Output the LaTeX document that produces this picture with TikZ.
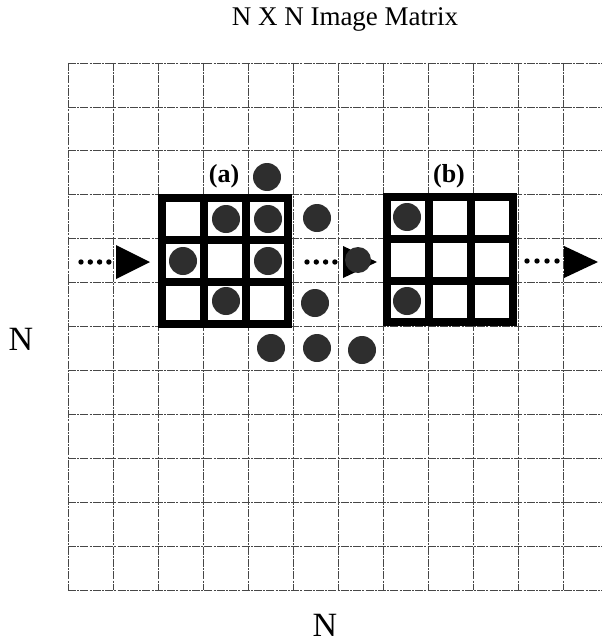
\documentclass[tikz,border=0pt]{standalone}
\usepackage{fontspec}
\setmainfont{Liberation Serif}
\begin{document}
\begin{tikzpicture}[x=1pt,y=-1pt,
  gridline/.style={black!72, line width=0.8pt, dash pattern=on 8pt off 1.2pt on 2pt off 1.2pt},
  frame/.style={black, line width=8pt, line join=miter},
  pixel/.style={fill=black!82, draw=none},
  head/.style={fill=black, draw=none},
  trail/.style={fill=black, draw=none},
  caption/.style={inner sep=0pt, anchor=base},
  tag/.style={inner sep=0pt, anchor=base, font=\fontsize{26}{30}\selectfont\bfseries}]
\useasboundingbox (0,0) rectangle (602,642);

% background N x N grid
\foreach \i in {0,...,11}
  \draw[gridline] ({68+45*\i},63) -- ({68+45*\i},590);
\foreach \j in {0,...,12}
  \draw[gridline] (68,{63+43.917*\j}) -- (602,{63+43.917*\j});

% window (a)
\fill[white] (162,198) rectangle (288,324);
\draw[frame] (162,198) rectangle (288,324);
\draw[frame] (204,198) -- (204,324) (246,198) -- (246,324)
             (162,240) -- (288,240) (162,282) -- (288,282);

% window (b)
\fill[white] (387,197) rectangle (513,322);
\draw[frame] (387,197) rectangle (513,322);
\draw[frame] (429,197) -- (429,322) (471,197) -- (471,322)
             (387,239) -- (513,239) (387,281) -- (513,281);

% object pixels
\foreach \p in {(267,177),(226,219),(268,219),(317,218),(183,261),(268,261),
                (226,301),(315,303),(271,348),(317,348),(362,350),
                (407,217),(407,301)}
  \fill[pixel] \p circle (14pt);

% scan direction arrows
\coordinate (inL) at (116,262);
\coordinate (inM) at (343,262);
\coordinate (inR) at (564,262);
\foreach \k in {0,...,3} {
  \fill[trail] ({81+9.3*\k},262) circle (2.7pt);
  \fill[trail] ({307+9.3*\k},262) circle (2.7pt);
  \fill[trail] ({527+10*\k},261) circle (2.7pt);
}
\fill[head] (inL) ++(0,-17) -- ++(34,17) -- ++(-34,17) -- cycle;
\fill[head] (inM) ++(0,-16) -- ++(34,16) -- ++(-34,16) -- cycle;
\fill[pixel] (358,260) circle (13pt);
\fill[head] (inR) ++(0,-16) -- ++(34,16) -- ++(-34,16) -- cycle;

% labels
\node[caption, font=\fontsize{27}{32}\selectfont] (title) at (345,26) {N X N Image Matrix};
\node[caption, font=\fontsize{34}{40}\selectfont] (rowsN) at (21,350) {N};
\node[caption, font=\fontsize{34}{40}\selectfont] (colsN) at (325,636) {N};
\node[tag] (tagA) at (224,182) {(a)};
\node[tag] (tagB) at (449,182) {(b)};
\end{tikzpicture}
\end{document}
